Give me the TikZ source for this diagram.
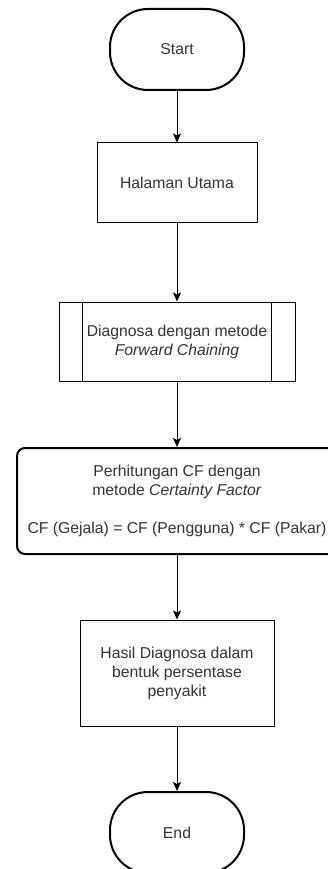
\documentclass[tikz,border=0pt]{standalone}
\usepackage{fontspec}
\setmainfont{Liberation Sans}
\usetikzlibrary{arrows.meta}

\begin{document}
\begin{tikzpicture}[x=1pt, y=-1pt, line join=round,
    every node/.style={font=\fontsize{15.75}{19}\selectfont, text=black!80, align=center},
    terminal/.style={draw, line width=2pt, rounded corners=38pt, minimum width=134pt, minimum height=81pt},
    procbox/.style={draw, line width=1pt, minimum height=79pt},
    calcbox/.style={draw, line width=2pt, rounded corners=8pt, minimum width=320pt, minimum height=106pt},
    flow/.style={line width=1pt, -{Stealth[length=9pt, width=8pt, inset=2pt]}}]
            \useasboundingbox (0,0) rectangle (328,869);
            \clip (0,0) rectangle (328,869);
            \node [terminal] (Start) at (177,49.5) {Start};
            \node [procbox, minimum width=160pt] (Home) at (177,182.5) {Halaman Utama};
            \node [procbox, minimum width=236pt] (Chain) at (177,341.5) {Diagnosa dengan metode\\\textit{Forward Chaining}};
            \draw [line width=1pt] ([xshift=24pt]Chain.north west) -- ([xshift=24pt]Chain.south west);
            \draw [line width=1pt] ([xshift=-24pt]Chain.north east) -- ([xshift=-24pt]Chain.south east);
            \node [calcbox] (CF) at (177,501) {Perhitungan CF dengan\\metode \textit{Certainty Factor}\\[19pt]CF (Gejala) = CF (Pengguna) * CF (Pakar)};
            \node [procbox, minimum width=194pt, minimum height=106pt] (Result) at (177,673) {Hasil Diagnosa dalam\\bentuk persentase\\penyakit};
            \node [terminal] (End) at (177,832.5) {End};
            \path[flow] (Start) edge (Home);
            \path[flow] (Home) edge (Chain);
            \path[flow] (Chain) edge (CF);
            \path[flow] (CF) edge (Result);
            \path[flow] (Result) edge (End);
        \end{tikzpicture}
\end{document}
